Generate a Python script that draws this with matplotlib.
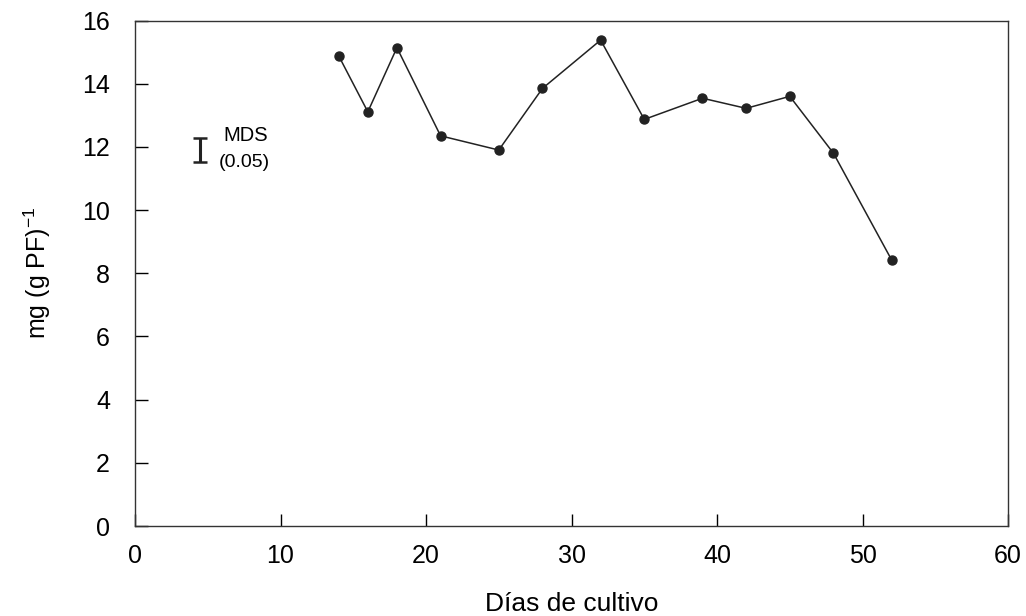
import numpy as np
import matplotlib.pyplot as plt

plt.rcParams['font.family'] = ['Liberation Sans', 'DejaVu Sans']
plt.rcParams['mathtext.fontset'] = 'custom'
plt.rcParams['mathtext.rm'] = 'Liberation Sans'

# días de cultivo y contenido medido
dias = [14, 16, 18, 21, 25, 28, 32, 35, 39, 42, 45, 48, 52]
contenido = [14.88, 13.11, 15.14, 12.35, 11.9, 13.85, 15.38, 12.87, 13.54, 13.22, 13.6, 11.8, 8.42]

# barra de mínima diferencia significativa
mds_x = 4.5
mds_centro = 11.9
mds_valor = 0.74

fig = plt.figure(figsize=(10.26, 6.16), dpi=100)
ax = fig.add_axes([0.1316, 0.1461, 0.8509, 0.8206])

ax.plot(dias, contenido, color='#222222', lw=1.1, marker='o', ms=6.5,
        mfc='#222222', mec='#222222')

ax.errorbar([mds_x], [mds_centro], yerr=[mds_valor / 2], fmt='none',
            ecolor='#222222', elinewidth=2.2, capsize=5, capthick=1.8)
ax.text(6.07, 12.37, 'MDS', fontsize=14.5, ha='left', va='center')
ax.text(5.73, 11.5, '(0.05)', fontsize=14, ha='left', va='center')

ax.set_xlim(0, 60)
ax.set_ylim(0, 16)
ax.set_xticks(np.arange(0, 61, 10))
ax.set_yticks(np.arange(0, 17, 2))
ax.tick_params(direction='in', length=9, width=1, labelsize=18,
               top=False, right=False)
ax.tick_params(axis='x', pad=13)
ax.tick_params(axis='y', pad=18)

for s in ax.spines.values():
    s.set_linewidth(1.0)
    s.set_color('#333333')

ax.set_xlabel('Días de cultivo', fontsize=19, labelpad=17)
ax.set_ylabel('mg (g PF)$^{\\mathregular{-1}}$', fontsize=18, labelpad=21)

fig.savefig('out.png', dpi=100)
